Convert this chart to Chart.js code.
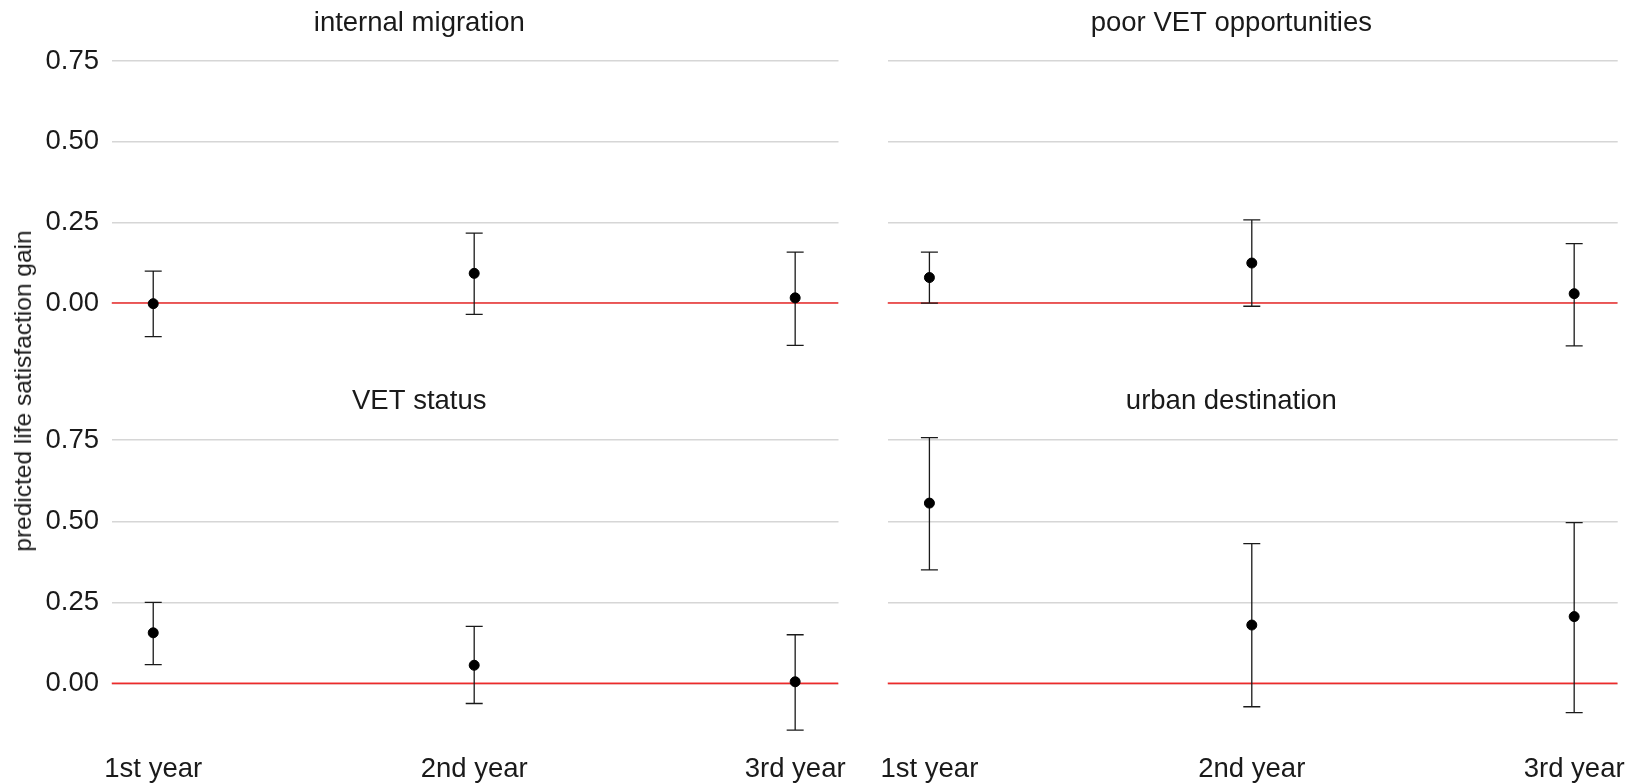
<!DOCTYPE html>
<html>
<head>
<meta charset="utf-8">
<script src="https://cdn.jsdelivr.net/npm/chart.js@4"></script>
<style>
  body { margin: 0; background: #fff; width: 1633px; height: 783px; overflow: hidden; position: relative; }
  .panel { position: absolute; }
  #ytitle {
    position: absolute; left: 23px; top: 391px;
    transform: translate(-50%, -50%) rotate(-90deg);
    font: 24.5px "Liberation Sans", Arial, sans-serif; color: #1a1a1a; white-space: nowrap;
  }
</style>
</head>
<body>
<div class="panel" style="left:0;top:0;width:860px;height:370px"><canvas id="c0"></canvas></div>
<div class="panel" style="left:845px;top:0;width:788px;height:370px"><canvas id="c1"></canvas></div>
<div class="panel" style="left:0;top:380px;width:860px;height:403px"><canvas id="c2"></canvas></div>
<div class="panel" style="left:845px;top:380px;width:788px;height:403px"><canvas id="c3"></canvas></div>
<div id="ytitle">predicted life satisfaction gain</div>
<script>
const categories = ['1st year', '2nd year', '3rd year']
const panelTitles = ['internal migration', 'poor VET opportunities', 'VET status', 'urban destination']
const yTicks = [0, 0.25, 0.5, 0.75]

const migrationEst = [-0.002, 0.092, 0.016]
const migrationLow = [-0.104, -0.035, -0.131]
const migrationHigh = [0.099, 0.217, 0.158]

const poorVetEst = [0.079, 0.124, 0.029]
const poorVetLow = [0.0, -0.010, -0.133]
const poorVetHigh = [0.158, 0.258, 0.184]

const vetStatusEst = [0.156, 0.056, 0.005]
const vetStatusLow = [0.058, -0.062, -0.144]
const vetStatusHigh = [0.25, 0.176, 0.15]

const urbanEst = [0.556, 0.18, 0.206]
const urbanLow = [0.35, -0.072, -0.09]
const urbanHigh = [0.758, 0.431, 0.496]

const FONT = '"Liberation Sans", Arial, sans-serif'
const FS = 27.5

const errorBars = {
    id: 'errorBars',
    beforeDatasetDraw(chart, args, opts) {
        if (args.index !== 0) return
        const ctx = chart.ctx
        const xs = chart.scales.x
        const ys = chart.scales.y
        ctx.save()
        ctx.strokeStyle = '#1a1a1a'
        ctx.lineWidth = 1.3
        opts.low.forEach((lo, i) => {
            const x = xs.getPixelForValue(i + 1)
            const y1 = ys.getPixelForValue(lo)
            const y2 = ys.getPixelForValue(opts.high[i])
            ctx.beginPath()
            ctx.moveTo(x, y1); ctx.lineTo(x, y2)
            ctx.moveTo(x - 8.5, y1); ctx.lineTo(x + 8.5, y1)
            ctx.moveTo(x - 8.5, y2); ctx.lineTo(x + 8.5, y2)
            ctx.stroke()
        })
        ctx.restore()
    }
}

function makePanel(id, title, est, low, high, isLeft, isBottom) {
    const titleTop = isBottom ? 4.5 : 6.5
    const titleBottom = isBottom ? 5.5 : 4.5
    new Chart(document.getElementById(id), {
        type: 'scatter',
        data: {
            datasets: [{
                data: est.map((v, i) => ({x: i + 1, y: v})),
                backgroundColor: '#000',
                borderColor: '#000',
                pointRadius: 5,
                order: 0
            }, {
                type: 'line',
                data: [{x: 0.87, y: 0}, {x: 3.135, y: 0}],
                borderColor: 'rgba(240,0,0,0.8)',
                borderWidth: 1.6,
                pointRadius: 0,
                order: 1
            }]
        },
        options: {
            animation: false,
            responsive: true,
            maintainAspectRatio: false,
            layout: { padding: { left: 0, right: isLeft ? 21.5 : 15.3, top: 0, bottom: 0 } },
            scales: {
                x: {
                    type: 'linear',
                    min: 0.87,
                    max: 3.135,
                    display: isBottom,
                    afterBuildTicks: s => { s.ticks = [1, 2, 3].map(v => ({value: v})) },
                    afterFit: s => {
                        if (isBottom) s.height = 38.3
                        s.paddingLeft = 0
                        s.paddingRight = 0
                    },
                    grid: { display: false, drawTicks: false },
                    border: { display: false },
                    ticks: {
                        padding: 7.8,
                        color: '#1a1a1a',
                        font: { family: FONT, size: FS },
                        maxRotation: 0,
                        autoSkip: false,
                        callback: v => categories[v - 1]
                    }
                },
                y: {
                    min: -0.189,
                    max: 0.803,
                    afterBuildTicks: s => { s.ticks = yTicks.map(v => ({value: v})) },
                    afterFit: s => {
                        s.width = isLeft ? 111.5 : 42.5
                        s.paddingTop = 0
                        s.paddingBottom = 0
                    },
                    grid: { color: '#d6d6d6', lineWidth: 1.5, drawTicks: false },
                    border: { display: false },
                    ticks: {
                        display: isLeft,
                        padding: 12.5,
                        color: '#1a1a1a',
                        font: { family: FONT, size: FS },
                        callback: v => v.toFixed(2)
                    }
                }
            },
            plugins: {
                legend: { display: false },
                tooltip: { enabled: false },
                title: {
                    display: true,
                    text: title,
                    color: '#1a1a1a',
                    font: { family: FONT, size: FS, weight: 'normal' },
                    padding: { top: titleTop, bottom: titleBottom }
                },
                errorBars: { low: low, high: high }
            }
        },
        plugins: [errorBars]
    })
}

makePanel('c0', panelTitles[0], migrationEst, migrationLow, migrationHigh, true, false)
makePanel('c1', panelTitles[1], poorVetEst, poorVetLow, poorVetHigh, false, false)
makePanel('c2', panelTitles[2], vetStatusEst, vetStatusLow, vetStatusHigh, true, true)
makePanel('c3', panelTitles[3], urbanEst, urbanLow, urbanHigh, false, true)
</script>
</body>
</html>
